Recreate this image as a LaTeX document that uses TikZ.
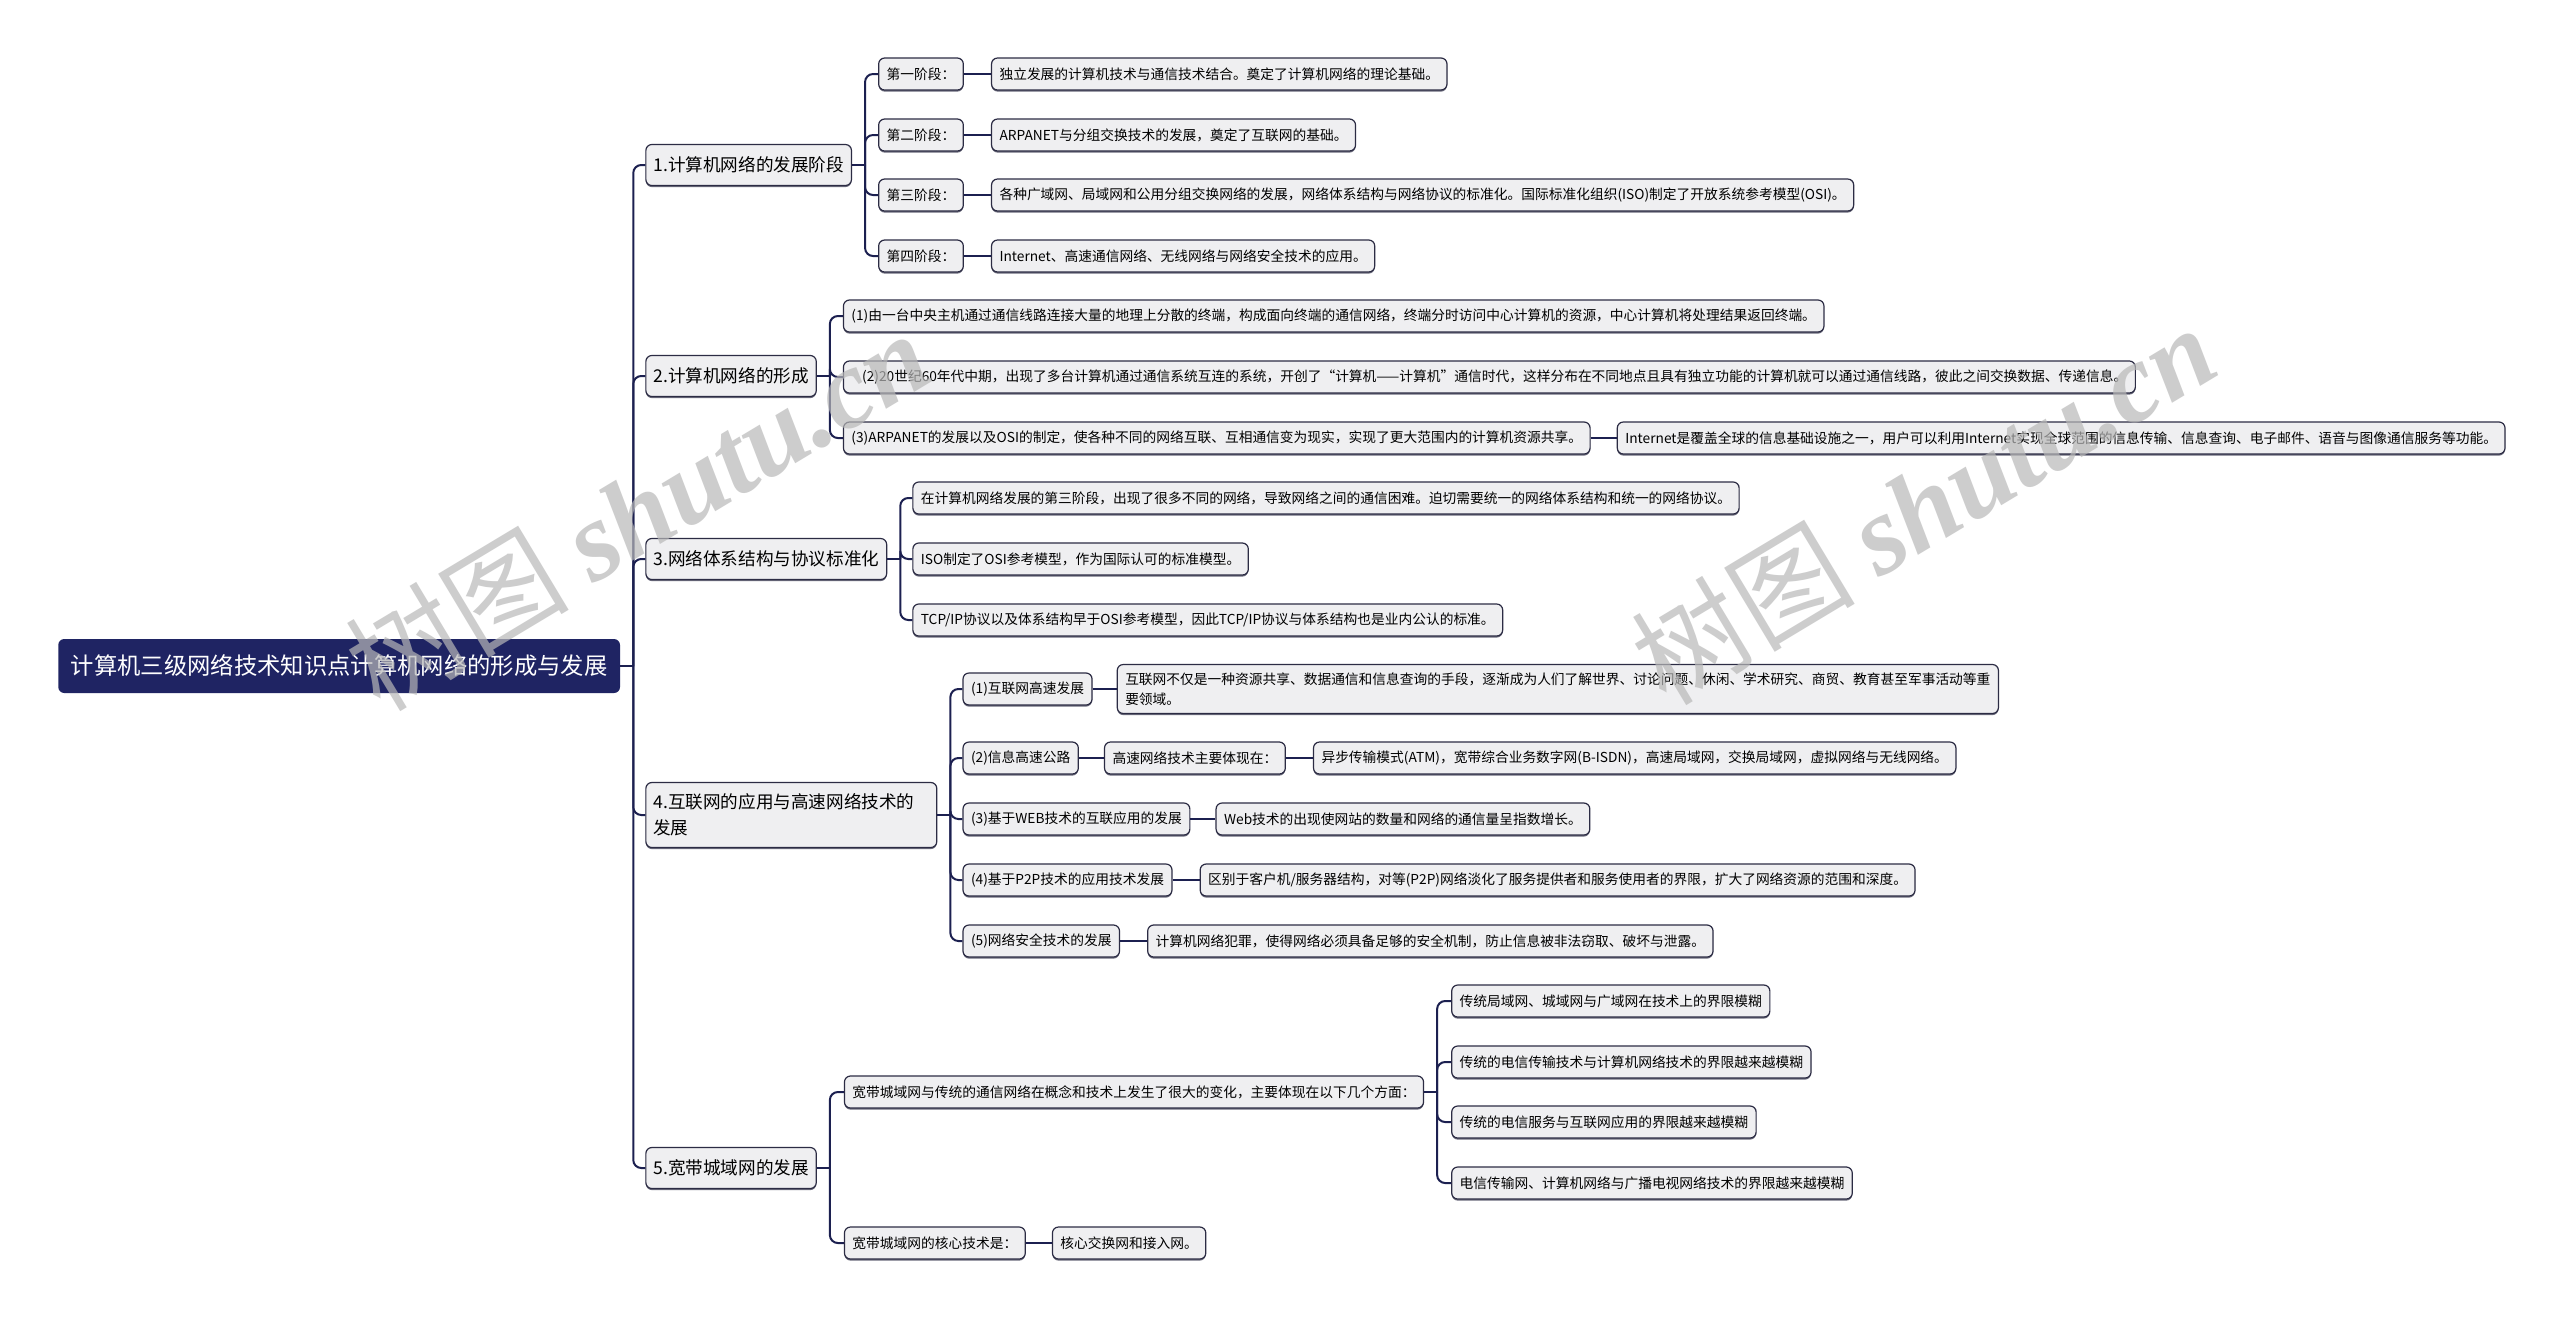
\documentclass[tikz,border=0pt]{standalone}
\usepackage{fontspec}
\setmainfont{Noto Sans CJK SC}
\newfontfamily\wmlatin{Liberation Serif}
\usetikzlibrary{calc,shadows}
\definecolor{navy}{HTML}{1F2463}
\definecolor{lineclr}{HTML}{1C2050}
\definecolor{boxfill}{HTML}{EFEFF1}
\definecolor{boxdraw}{HTML}{2C2C44}
\newcommand{\mmstem}[1]{\draw[conn] (#1.east) -- ($(#1.east)+(13,0)$);}
\newcommand{\mmlink}[2]{\draw[conn,rounded corners=6pt] ($(#1.east)+(13,0)$) |- (#2.west);}
\begin{document}
\begin{tikzpicture}[x=0.75pt,y=-0.75pt,
  conn/.style={draw=lineclr,line width=1.5pt},
  basebox/.style={draw=boxdraw,fill=boxfill,line width=0.9pt,rounded corners=4.5pt,
    anchor=west,inner ysep=0pt,
    drop shadow={shadow xshift=0pt,shadow yshift=-1.2pt,fill=boxdraw,opacity=0.7}},
  box/.style={basebox,inner xsep=6pt,minimum height=24pt,font=\fontsize{10.3pt}{15pt}\selectfont},
  lonebox/.style={basebox,inner xsep=5.6pt,minimum height=30.75pt,font=\fontsize{13.2pt}{19.5pt}\selectfont},
  rootbox/.style={fill=navy,text=white,rounded corners=4.5pt,anchor=west,inner xsep=9.4pt,
    inner ysep=0pt,minimum height=40.5pt,font=\fontsize{17.5pt}{21pt}\selectfont},
  wmark/.style={text=black!28,opacity=0.7,rotate=31,font=\fontsize{84pt}{84pt}\selectfont}
]
\fill[white] (0,0) rectangle (2560,1318);
\useasboundingbox (0,0) rectangle (2560,1318);

% root
\node[rootbox] (R) at (58,666) {计算机三级网络技术知识点计算机网络的形成与发展};

% level 1
\node[lonebox] (n1) at ($(R.east |- 0,165)+(25,0)$) {1.计算机网络的发展阶段};
\node[lonebox] (n2) at ($(R.east |- 0,376)+(25,0)$) {2.计算机网络的形成};
\node[lonebox] (n3) at ($(R.east |- 0,559)+(25,0)$) {3.网络体系结构与协议标准化};
\node[lonebox,align=left,text width=207pt,minimum height=48.75pt] (n4) at ($(R.east |- 0,815)+(25,0)$) {4.互联网的应用与高速网络技术的\\发展};
\node[lonebox] (n5) at ($(R.east |- 0,1168)+(25,0)$) {5.宽带城域网的发展};

% branch 1
\node[box] (s1) at ($(n1.east |- 0,74)+(26,0)$) {第一阶段：};
\node[box] (s2) at ($(n1.east |- 0,135)+(26,0)$) {第二阶段：};
\node[box] (s3) at ($(n1.east |- 0,195)+(26,0)$) {第三阶段：};
\node[box] (s4) at ($(n1.east |- 0,256)+(26,0)$) {第四阶段：};
\node[box] (d1) at ($(s1.east)+(27,0)$) {独立发展的计算机技术与通信技术结合。奠定了计算机网络的理论基础。};
\node[box] (d2) at ($(s2.east)+(27,0)$) {ARPANET与分组交换技术的发展，奠定了互联网的基础。};
\node[box] (d3) at ($(s3.east)+(27,0)$) {各种广域网、局域网和公用分组交换网络的发展，网络体系结构与网络协议的标准化。国际标准化组织(ISO)制定了开放系统参考模型(OSI)。};
\node[box] (d4) at ($(s4.east)+(27,0)$) {Internet、高速通信网络、无线网络与网络安全技术的应用。};

% branch 2
\node[box] (f1) at ($(n2.east |- 0,316)+(26,0)$) {(1)由一台中央主机通过通信线路连接大量的地理上分散的终端，构成面向终端的通信网络，终端分时访问中心计算机的资源，中心计算机将处理结果返回终端。};
\node[box] (f2) at ($(n2.east |- 0,377)+(26,0)$) {\hspace*{8pt}(2)20世纪60年代中期，出现了多台计算机通过通信系统互连的系统，开创了“计算机——计算机”通信时代，这样分布在不同地点且具有独立功能的计算机就可以通过通信线路，彼此之间交换数据、传递信息。};
\node[box] (f3) at ($(n2.east |- 0,438)+(26,0)$) {(3)ARPANET的发展以及OSI的制定，使各种不同的网络互联、互相通信变为现实，实现了更大范围内的计算机资源共享。};
\node[box] (g1) at ($(f3.east)+(26,0)$) {Internet是覆盖全球的信息基础设施之一，用户可以利用Internet实现全球范围的信息传输、信息查询、电子邮件、语音与图像通信服务等功能。};

% branch 3
\node[box] (p1) at ($(n3.east |- 0,498)+(25,0)$) {在计算机网络发展的第三阶段，出现了很多不同的网络，导致网络之间的通信困难。迫切需要统一的网络体系结构和统一的网络协议。};
\node[box] (p2) at ($(n3.east |- 0,559)+(25,0)$) {ISO制定了OSI参考模型，作为国际认可的标准模型。};
\node[box] (p3) at ($(n3.east |- 0,620)+(25,0)$) {TCP/IP协议以及体系结构早于OSI参考模型，因此TCP/IP协议与体系结构也是业内公认的标准。};

% branch 4
\node[box] (h1) at ($(n4.east |- 0,689)+(25,0)$) {(1)互联网高速发展};
\node[box,align=left,minimum height=36.75pt] (h1a) at ($(h1.east)+(24,0)$) {互联网不仅是一种资源共享、数据通信和信息查询的手段，逐渐成为人们了解世界、讨论问题、休闲、学术研究、商贸、教育甚至军事活动等重\\要领域。};
\node[box] (h2) at ($(n4.east |- 0,758)+(25,0)$) {(2)信息高速公路};
\node[box] (h2a) at ($(h2.east)+(25,0)$) {高速网络技术主要体现在：};
\node[box] (h2b) at ($(h2a.east)+(27,0)$) {异步传输模式(ATM)，宽带综合业务数字网(B-ISDN)，高速局域网，交换局域网，虚拟网络与无线网络。};
\node[box] (h3) at ($(n4.east |- 0,819)+(25,0)$) {(3)基于WEB技术的互联应用的发展};
\node[box] (h3a) at ($(h3.east)+(25,0)$) {Web技术的出现使网站的数量和网络的通信量呈指数增长。};
\node[box] (h4) at ($(n4.east |- 0,880)+(25,0)$) {(4)基于P2P技术的应用技术发展};
\node[box] (h4a) at ($(h4.east)+(27,0)$) {区别于客户机/服务器结构，对等(P2P)网络淡化了服务提供者和服务使用者的界限，扩大了网络资源的范围和深度。};
\node[box] (h5) at ($(n4.east |- 0,941)+(25,0)$) {(5)网络安全技术的发展};
\node[box] (h5a) at ($(h5.east)+(27,0)$) {计算机网络犯罪，使得网络必须具备足够的安全机制，防止信息被非法窃取、破坏与泄露。};

% branch 5
\node[box] (k1) at ($(n5.east |- 0,1092)+(27,0)$) {宽带城域网与传统的通信网络在概念和技术上发生了很大的变化，主要体现在以下几个方面：};
\node[box] (m1) at ($(k1.east |- 0,1001)+(27,0)$) {传统局域网、城域网与广域网在技术上的界限模糊};
\node[box] (m2) at ($(k1.east |- 0,1062)+(27,0)$) {传统的电信传输技术与计算机网络技术的界限越来越模糊};
\node[box] (m3) at ($(k1.east |- 0,1122)+(27,0)$) {传统的电信服务与互联网应用的界限越来越模糊};
\node[box] (m4) at ($(k1.east |- 0,1183)+(27,0)$) {电信传输网、计算机网络与广播电视网络技术的界限越来越模糊};
\node[box] (k2) at ($(n5.east |- 0,1243)+(27,0)$) {宽带城域网的核心技术是：};
\node[box] (k2a) at ($(k2.east)+(26,0)$) {核心交换网和接入网。};

% connectors
\mmstem{R}
\mmlink{R}{n1}\mmlink{R}{n2}\mmlink{R}{n3}\mmlink{R}{n4}\mmlink{R}{n5}
\mmstem{n1}
\mmlink{n1}{s1}\mmlink{n1}{s2}\mmlink{n1}{s3}\mmlink{n1}{s4}
\draw[conn] (s1.east) -- (d1.west);
\draw[conn] (s2.east) -- (d2.west);
\draw[conn] (s3.east) -- (d3.west);
\draw[conn] (s4.east) -- (d4.west);
\mmstem{n2}
\mmlink{n2}{f1}\mmlink{n2}{f2}\mmlink{n2}{f3}
\draw[conn] (f3.east) -- (g1.west);
\mmstem{n3}
\mmlink{n3}{p1}\mmlink{n3}{p2}\mmlink{n3}{p3}
\mmstem{n4}
\mmlink{n4}{h1}\mmlink{n4}{h2}\mmlink{n4}{h3}\mmlink{n4}{h4}\mmlink{n4}{h5}
\draw[conn] (h1.east) -- (h1.east -| h1a.west);
\draw[conn] (h2.east) -- (h2a.west);
\draw[conn] (h2a.east) -- (h2b.west);
\draw[conn] (h3.east) -- (h3a.west);
\draw[conn] (h4.east) -- (h4a.west);
\draw[conn] (h5.east) -- (h5a.west);
\mmstem{n5}
\mmlink{n5}{k1}\mmlink{n5}{k2}
\mmstem{k1}
\mmlink{k1}{m1}\mmlink{k1}{m2}\mmlink{k1}{m3}\mmlink{k1}{m4}
\draw[conn] (k2.east) -- (k2a.west);

% watermarks
\node[wmark] (w1) at (637,509) {树图 {\wmlatin\bfseries\itshape shutu.cn}};
\node[wmark] (w2) at (1923,503) {树图 {\wmlatin\bfseries\itshape shutu.cn}};
\end{tikzpicture}
\end{document}
